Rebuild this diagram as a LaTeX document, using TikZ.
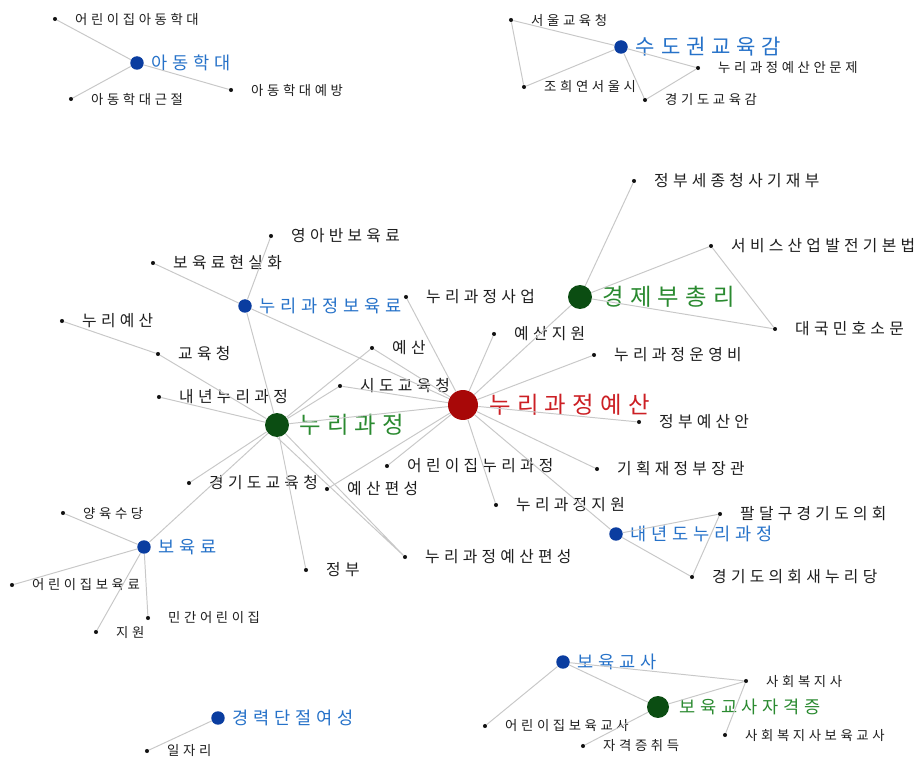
\documentclass[tikz,border=0pt]{standalone}
\usepackage{fontspec}
\newfontfamily\kofont{Noto Sans CJK KR}
\protected\def\spread#1{\spreadnext#1\relax}
\def\spreadnext#1{\ifx#1\relax\else#1\kern0.27em\expandafter\spreadnext\fi}
\definecolor{linegray}{HTML}{C8C8C8}
\definecolor{dotblack}{HTML}{111111}
\definecolor{txtblack}{HTML}{1E1E1E}
\definecolor{hubblue}{HTML}{0A3DA0}
\definecolor{labblue}{HTML}{2672C9}
\definecolor{hubgreen}{HTML}{0B4D12}
\definecolor{labgreen}{HTML}{2A8A30}
\definecolor{hubred}{HTML}{A80808}
\definecolor{labred}{HTML}{CC1F24}
\tikzset{
  link/.style={draw=linegray, line width=0.55pt},
  term/.style 2 args={circle, fill=dotblack, inner sep=0pt, minimum size=2.3pt,
    label={[font=\kofont\fontsize{#2}{#2}\selectfont, text=txtblack, inner sep=0pt, xshift=3.5mm]right:\spread{#1}}},
  bhub/.style 2 args={circle, fill=hubblue, inner sep=0pt, minimum size=0.27cm,
    label={[font=\kofont\fontsize{#2}{#2}\selectfont, text=labblue, inner sep=0pt, xshift=1.5mm]right:\spread{#1}}},
  ghub/.style 2 args={circle, fill=hubgreen, inner sep=0pt, minimum size=0.48cm,
    label={[font=\kofont\fontsize{#2}{#2}\selectfont, text=labgreen, inner sep=0pt, xshift=1.9mm]right:\spread{#1}}},
  rhub/.style 2 args={circle, fill=hubred, inner sep=0pt, minimum size=0.6cm,
    label={[font=\kofont\fontsize{#2}{#2}\selectfont, text=labred, inner sep=0pt, xshift=2.1mm]right:\spread{#1}}},
}
\begin{document}
\begin{tikzpicture}[x=0.02cm, y=-0.02cm]
      \useasboundingbox[fill=white] (0,0) rectangle (914,760);

      \node[bhub={아동학대}{10}] (adh) at (137,63) {};
      \node[term={어린이집아동학대}{7.6}] (adh1) at (55,19) {};
      \node[term={아동학대근절}{7.6}] (adh2) at (71,99) {};
      \node[term={아동학대예방}{7.6}] (adh3) at (231,90) {};

      \node[bhub={수도권교육감}{12}] (sdk) at (621,47) {};
      \node[term={서울교육청}{7.6}] (sdk1) at (511,20) {};
      \node[term={조희연서울시}{7.6}] (sdk2) at (524,87) {};
      \node[term={누리과정예산안문제}{7.6}] (sdk3) at (698,68) {};
      \node[term={경기도교육감}{7.6}] (sdk4) at (645,100) {};

      \node[rhub={누리과정예산}{13.3}] (nb) at (463,405) {};
      \node[ghub={누리과정}{13.3}] (nc) at (277,425) {};
      \node[ghub={경제부총리}{13.3}] (ep) at (580,297) {};
      \node[bhub={누리과정보육료}{10}] (nf) at (245,306) {};
      \node[bhub={보육료}{10}] (by) at (144,547) {};
      \node[bhub={내년도누리과정}{10}] (nd) at (616,534) {};

      \node[term={영아반보육료}{9}] (nf1) at (271,236) {};
      \node[term={보육료현실화}{9}] (nf2) at (153,263) {};
      \node[term={누리예산}{9}] (nc1) at (62,321) {};
      \node[term={교육청}{9}] (nc2) at (158,354) {};
      \node[term={내년누리과정}{9}] (nc3) at (159,397) {};
      \node[term={예산}{9}] (nc4) at (372,348) {};
      \node[term={시도교육청}{9}] (nc5) at (340,386) {};
      \node[term={경기도교육청}{9}] (nc6) at (189,483) {};
      \node[term={정부}{9}] (nc7) at (306,570) {};
      \node[term={누리과정예산편성}{9}] (nc8) at (405,557) {};
      \node[term={누리과정사업}{9}] (nb1) at (406,297) {};
      \node[term={예산지원}{9}] (nb2) at (494,334) {};
      \node[term={누리과정운영비}{9}] (nb3) at (594,355) {};
      \node[term={정부예산안}{9}] (nb4) at (639,422) {};
      \node[term={기획재정부장관}{9}] (nb5) at (597,469) {};
      \node[term={누리과정지원}{9}] (nb6) at (496,505) {};
      \node[term={어린이집누리과정}{9}] (nb7) at (387,466) {};
      \node[term={예산편성}{9}] (nb8) at (327,489) {};
      \node[term={정부세종청사기재부}{9}] (ep1) at (634,181) {};
      \node[term={서비스산업발전기본법}{9}] (ep2) at (711,246) {};
      \node[term={대국민호소문}{9}] (ep3) at (775,329) {};
      \node[term={팔달구경기도의회}{9}] (nd1) at (720,514) {};
      \node[term={경기도의회새누리당}{9}] (nd2) at (692,577) {};

      \node[term={양육수당}{7.6}] (by1) at (63,513) {};
      \node[term={어린이집보육료}{7.6}] (by2) at (12,585) {};
      \node[term={민간어린이집}{7.6}] (by3) at (148,618) {};
      \node[term={지원}{7.6}] (by4) at (96,632) {};

      \node[bhub={보육교사}{10}] (bt) at (563,662) {};
      \node[ghub={보육교사자격증}{10}, minimum size=0.44cm] (bc) at (658,707) {};
      \node[term={사회복지사}{7.6}] (bt1) at (746,681) {};
      \node[term={어린이집보육교사}{7.6}] (bt2) at (485,726) {};
      \node[term={자격증취득}{7.6}] (bc1) at (583,746) {};
      \node[term={사회복지사보육교사}{7.6}] (bt3) at (725,735) {};

      \node[bhub={경력단절여성}{10}] (kd) at (218,718) {};
      \node[term={일자리}{7.6}] (kd1) at (147,751) {};

      \draw[link] (adh) -- (adh1) (adh) -- (adh2) (adh) -- (adh3);
      \draw[link] (sdk) -- (sdk1) (sdk) -- (sdk2) (sdk) -- (sdk3) (sdk) -- (sdk4)
        (sdk1) -- (sdk2) (sdk4) -- (sdk3);
      \draw[link] (nf) -- (nf1) (nf) -- (nf2) (nf) -- (nc) (nf) -- (nb);
      \draw[link] (nc1) -- (nc2) -- (nc) (nc) -- (nc3) (nc) -- (nc4) (nc) -- (nc5)
        (nc) -- (nb) (nc) -- (nc6) (nc) -- (by) (nc) -- (nc7) (nc) -- (nc8)
        (nc.south) -- (nc8);
      \draw[link] (nb) -- (nc4) (nb) -- (nc5) (nb) -- (nb1) (nb) -- (nb2) (nb) -- (ep)
        (nb) -- (nb3) (nb) -- (nb4) (nb) -- (nb5) (nb) -- (nd) (nb) -- (nb6)
        (nb) -- (nb7) (nb) -- (nb8);
      \draw[link] (ep) -- (ep1) (ep) -- (ep2) (ep) -- (ep3) (ep2) -- (ep3);
      \draw[link] (nd) -- (nd1) (nd) -- (nd2) (nd1) -- (nd2);
      \draw[link] (by) -- (by1) (by) -- (by2) (by) -- (by3) (by) -- (by4);
      \draw[link] (bt) -- (bt1) (bt) -- (bc) (bt) -- (bt2) (bc) -- (bt1) (bc) -- (bc1)
        (bt1) -- (bt3);
      \draw[link] (kd) -- (kd1);
\end{tikzpicture}
\end{document}
